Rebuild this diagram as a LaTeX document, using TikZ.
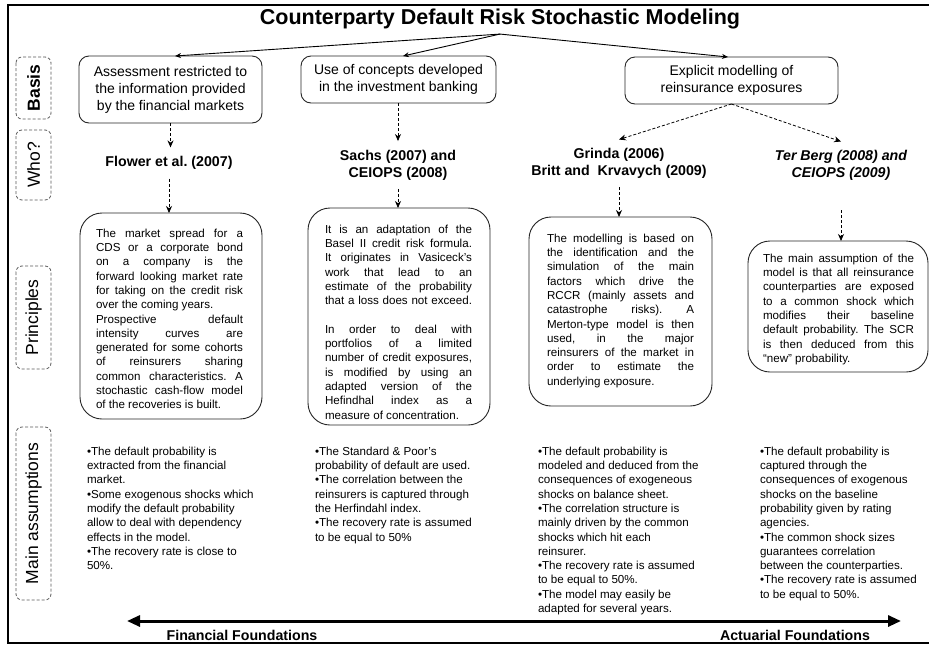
\documentclass[tikz,border=0pt]{standalone}
\usepackage{fontspec}
\setmainfont{Liberation Sans}
\usetikzlibrary{arrows.meta}
\newcommand\jla[1]{\makebox[147pt][s]{#1}}
\newcommand\jlb[1]{\makebox[151pt][s]{#1}}
\frenchspacing
\begin{document}
\begin{tikzpicture}[x=1pt,y=-1pt,
  every node/.style={inner sep=0pt, outer sep=0pt},
  basisbox/.style={draw=black!85, line width=0.9pt, rounded corners=10pt, align=center, font=\fontsize{14}{17}\selectfont},
  sidebox/.style={draw=black!65, dash pattern=on 3pt off 2pt, line width=0.8pt, rounded corners=6pt, rotate=90, font=\fontsize{17.5}{20}\selectfont},
  whonode/.style={align=center, font=\bfseries\fontsize{14.2}{16.7}\selectfont, inner ysep=9pt},
  princbox/.style={draw=black!85, line width=0.9pt, rounded corners=22pt},
  ptext/.style={align=left, anchor=north west, font=\fontsize{11.6}{14.3}\selectfont},
  dasharrow/.style={dash pattern=on 3pt off 2pt, line width=0.8pt, -{Stealth[length=7pt,width=6pt]}},
  toparrow/.style={line width=0.9pt, -{Stealth[length=6pt,width=5pt]}},
  footlabel/.style={font=\bfseries\fontsize{14.2}{16}\selectfont},
]
\useasboundingbox (0,0) rectangle (929,646);
\fill[white] (0,0) rectangle (929,646);
% frame
\draw[line width=2pt] (929,5) -- (8,5) -- (8,643) -- (929,643);

% title
\node[font=\bfseries\fontsize{21.5}{24}\selectfont, inner ysep=5pt] (title) at (500,19) {Counterparty Default Risk Stochastic Modeling};

% side labels
\node[sidebox, minimum width=62, minimum height=35] (sbasis) at (33.5,88) {\bfseries Basis};
\node[sidebox, minimum width=70, minimum height=35] (swho) at (33.5,165) {Who?};
\node[sidebox, minimum width=103, minimum height=35] (sprinc) at (33.5,317.5) {Principles};
\node[sidebox, minimum width=173, minimum height=35] (smain) at (33.5,513.5) {Main assumptions};

% basis boxes
\node[basisbox, minimum width=183, minimum height=67] (b1) at (170.5,89.5) {Assessment restricted to\\the information provided\\by the financial markets};
\node[basisbox, minimum width=195, minimum height=47] (b2) at (398.5,79.5) {Use of concepts developed\\in the investment banking};
\node[basisbox, minimum width=213, minimum height=47] (b3) at (731.5,80.5) {Explicit modelling of\\reinsurance exposures};

\draw[toparrow] (title.south) -- ([xshift=4.5pt]b1.north);
\draw[toparrow] (title.south) -- ([xshift=4.5pt]b2.north);
\draw[toparrow] (title.south) -- ([xshift=-3.5pt]b3.north);

% who
\node[whonode] (w1) at (169,163) {Flower et al. (2007)};
\node[whonode] (w2) at (398,165) {Sachs (2007) and\\CEIOPS (2008)};
\node[whonode] (w3) at (619,163.5) {Grinda (2006)\\Britt and \ Krvavych (2009)};
\node[whonode, font=\bfseries\itshape\fontsize{14.2}{16.7}\selectfont] (w4) at (841,165.5) {Ter Berg (2008) and\\CEIOPS (2009)};

% principle boxes
\node[princbox, minimum width=182, minimum height=206] (p1) at (171,316) {};
\node[princbox, minimum width=182, minimum height=217] (p2) at (399,316.5) {};
\node[princbox, minimum width=183, minimum height=189] (p3) at (620.5,311.5) {};
\node[princbox, minimum width=180, minimum height=131] (p4) at (838,306.5) {};

% arrows
\draw[dasharrow] (b1.south) -- (b1.south |- w1.north);
\draw[dasharrow] (w1.south) -- (w1.south |- p1.north);
\draw[dasharrow] (w2.north |- b2.south) -- (w2.north);
\draw[dasharrow] (w2.south) -- (w2.south |- p2.north);
\draw[dasharrow] (b3.south) -- (w3.north);
\draw[dasharrow] (b3.south) -- (w4.north);
\draw[dasharrow] (w3.south) -- (w3.south |- p3.north);
\draw[dasharrow, shorten <=21pt] (w4.south) -- (w4.south |- p4.north);

% principle texts
\node[ptext] (p1t) at (96,228.8) {%
\jla{The market spread for a}\\
\jla{CDS or a corporate bond}\\
\jla{on a company is the}\\
\jla{forward looking market rate}\\
\jla{for taking on the credit risk}\\
over the coming years.\\
\jla{Prospective default}\\
\jla{intensity curves are}\\
\jla{generated for some cohorts}\\
\jla{of reinsurers sharing}\\
\jla{common characteristics. A}\\
\jla{stochastic cash-flow model}\\
of the recoveries is built.};

\node[ptext] (p2t) at (325,224.8) {%
\jla{It is an adaptation of the}\\
\jla{Basel II credit risk formula.}\\
\jla{It originates in Vasiceck's}\\
\jla{work that lead to an}\\
\jla{estimate of the probability}\\
\jla{that a loss does not exceed.}\\
\mbox{}\\
\jla{In order to deal with}\\
\jla{portfolios of a limited}\\
\jla{number of credit exposures,}\\
\jla{is modified by using an}\\
\jla{adapted version of the}\\
\jla{Hefindhal index as a}\\
measure of concentration.};

\node[ptext] (p3t) at (547,233.8) {%
\jla{The modelling is based on}\\
\jla{the identification and the}\\
\jla{simulation of the main}\\
\jla{factors which drive the}\\
\jla{RCCR (mainly assets and}\\
\jla{catastrophe risks). A}\\
\jla{Merton-type model is then}\\
\jla{used, in the major}\\
\jla{reinsurers of the market in}\\
\jla{order to estimate the}\\
underlying exposure.};

\node[ptext] (p4t) at (763,253.8) {%
\jlb{The main assumption of the}\\
\jlb{model is that all reinsurance}\\
\jlb{counterparties are exposed}\\
\jlb{to a common shock which}\\
\jlb{modifies their baseline}\\
\jlb{default probability. The SCR}\\
\jlb{is then deduced from this}\\
“new” probability.};

% main assumptions
\node[ptext] (a1) at (87,446.8) {%
\textbullet The default probability is\\
extracted from the financial\\
market.\\
\textbullet Some exogenous shocks which\\
modify the default probability\\
allow to deal with dependency\\
effects in the model.\\
\textbullet The recovery rate is close to\\
50\%.};

\node[ptext] (a2) at (315,446.8) {%
\textbullet The Standard \& Poor's\\
probability of default are used.\\
\textbullet The correlation between the\\
reinsurers is captured through\\
the Herfindahl index.\\
\textbullet The recovery rate is assumed\\
to be equal to 50\%};

\node[ptext] (a3) at (538,446.8) {%
\textbullet The default probability is\\
modeled and deduced from the\\
consequences of exogeneous\\
shocks on balance sheet.\\
\textbullet The correlation structure is\\
mainly driven by the common\\
shocks which hit each\\
reinsurer.\\
\textbullet The recovery rate is assumed\\
to be equal to 50\%.\\
\textbullet The model may easily be\\
adapted for several years.};

\node[ptext] (a4) at (760,446.8) {%
\textbullet The default probability is\\
captured through the\\
consequences of exogenous\\
shocks on the baseline\\
probability given by rating\\
agencies.\\
\textbullet The common shock sizes\\
guarantees correlation\\
between the counterparties.\\
\textbullet The recovery rate is assumed\\
to be equal to 50\%.};

% foundations axis
\coordinate (fl) at (127,621);
\coordinate (fr) at (901,621);
\draw[line width=3pt, {Triangle[length=13pt,width=11pt]}-{Triangle[length=13pt,width=11pt]}] (fl) -- (fr);
\node[footlabel] (ff) at (242,635.5) {Financial Foundations};
\node[footlabel] (af) at (795,635.5) {Actuarial Foundations};
\end{tikzpicture}
\end{document}
